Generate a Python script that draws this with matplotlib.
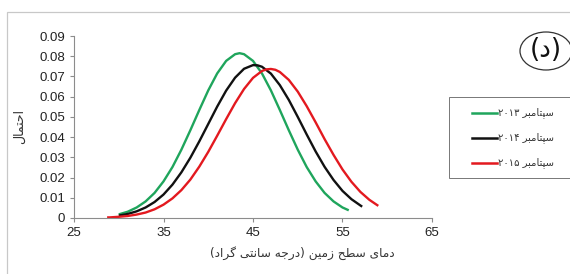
import re
import matplotlib
matplotlib.use("Agg")
import matplotlib.pyplot as plt
from matplotlib.patches import Rectangle, Ellipse
from matplotlib.lines import Line2D

# values (probability vs land surface temperature)
x_2013 = [30, 31, 32, 33, 34, 35, 36, 37, 38, 39, 40, 41, 42, 43, 43.5, 44, 45, 46,
          47, 48, 49, 50, 51, 52, 53, 54, 55, 55.7]
y_2013 = [0.0018, 0.0031, 0.0052, 0.0082, 0.0124, 0.0181, 0.0252, 0.0338, 0.0434,
          0.0534, 0.0631, 0.0715, 0.0777, 0.0810, 0.0815, 0.0810, 0.0777, 0.0715,
          0.0631, 0.0534, 0.0434, 0.0338, 0.0252, 0.0181, 0.0124, 0.0082, 0.0052,
          0.0038]

x_2014 = [30, 31, 32, 33, 34, 35, 36, 37, 38, 39, 40, 41, 42, 43, 44, 45, 45.5, 46,
          47, 48, 49, 50, 51, 52, 53, 54, 55, 56, 57, 57.2]
y_2014 = [0.0012, 0.0020, 0.0033, 0.0052, 0.0079, 0.0116, 0.0165, 0.0226, 0.0298,
          0.0379, 0.0465, 0.0551, 0.0630, 0.0694, 0.0738, 0.0756, 0.0755, 0.0748,
          0.0714, 0.0657, 0.0584, 0.0500, 0.0413, 0.0329, 0.0253, 0.0188, 0.0134,
          0.0093, 0.0062, 0.0056]

x_2015 = [28.7, 29, 30, 31, 32, 33, 34, 35, 36, 37, 38, 39, 40, 41, 42, 43, 44, 45,
          46, 46.5, 47, 47.5, 48, 49, 50, 51, 52, 53, 54, 55, 56, 57, 58, 59]
y_2015 = [0.0003, 0.0003, 0.0006, 0.0010, 0.0017, 0.0027, 0.0043, 0.0066, 0.0097,
          0.0138, 0.0190, 0.0254, 0.0327, 0.0407, 0.0489, 0.0568, 0.0638, 0.0693,
          0.0727, 0.0735, 0.0737, 0.0733, 0.0722, 0.0683, 0.0625, 0.0553, 0.0473,
          0.0390, 0.0312, 0.0240, 0.0179, 0.0129, 0.0090, 0.0060]

series_labels = ["سپتامبر ۲۰۱۳", "سپتامبر ۲۰۱۴", "سپتامبر ۲۰۱۵"]
colors = ["#1fa55c", "#111111", "#e3191f"]
x_ticks = [25, 35, 45, 55, 65]
y_ticks = [0, 0.01, 0.02, 0.03, 0.04, 0.05, 0.06, 0.07, 0.08, 0.09]
x_title = "دمای سطح زمین (درجه سانتی گراد)"
y_title = "احتمال"
panel_tag = "(د)"

# --- minimal Persian shaping (matplotlib has no bidi / joining) ---
FORMS = {
    "ا": ("\uFE8D", "\uFE8E", None, None),
    "ب": ("\uFE8F", "\uFE90", "\uFE91", "\uFE92"),
    "ت": ("\uFE95", "\uFE96", "\uFE97", "\uFE98"),
    "ج": ("\uFE9D", "\uFE9E", "\uFE9F", "\uFEA0"),
    "ح": ("\uFEA1", "\uFEA2", "\uFEA3", "\uFEA4"),
    "د": ("\uFEA9", "\uFEAA", None, None),
    "ر": ("\uFEAD", "\uFEAE", None, None),
    "ز": ("\uFEAF", "\uFEB0", None, None),
    "س": ("\uFEB1", "\uFEB2", "\uFEB3", "\uFEB4"),
    "ط": ("\uFEC1", "\uFEC2", "\uFEC3", "\uFEC4"),
    "ل": ("\uFEDD", "\uFEDE", "\uFEDF", "\uFEE0"),
    "م": ("\uFEE1", "\uFEE2", "\uFEE3", "\uFEE4"),
    "ن": ("\uFEE5", "\uFEE6", "\uFEE7", "\uFEE8"),
    "ه": ("\uFEE9", "\uFEEA", "\uFEEB", "\uFEEC"),
    "پ": ("\uFB56", "\uFB57", "\uFB58", "\uFB59"),
    "گ": ("\uFB92", "\uFB93", "\uFB94", "\uFB95"),
    "ی": ("\uFBFC", "\uFBFD", "\uFBFE", "\uFBFF"),
}


def shape(s):
    out = []
    for i, ch in enumerate(s):
        if ch not in FORMS:
            out.append(ch)
            continue
        prev = s[i - 1] if i > 0 else None
        nxt = s[i + 1] if i + 1 < len(s) else None
        jp = prev in FORMS and FORMS[prev][2] is not None
        jn = nxt in FORMS and FORMS[ch][2] is not None
        iso, fin, ini, med = FORMS[ch]
        if jp and jn:
            out.append(med)
        elif jp:
            out.append(fin)
        elif jn:
            out.append(ini)
        else:
            out.append(iso)
    return "".join(out)


def rtl(s):
    t = shape(s)[::-1]
    t = t.translate(str.maketrans("()", ")("))
    return re.sub(r"[۰-۹0-9]+", lambda m: m.group()[::-1], t)


plt.rcParams["font.family"] = ["Liberation Sans", "DejaVu Sans"]

fig = plt.figure(figsize=(5.7, 2.74), dpi=100)
W, H = 570.0, 274.0
ax = fig.add_axes([74 / W, 1 - 218 / H, (432 - 74) / W, (218 - 36) / H])

for xs, ys, c in zip([x_2013, x_2014, x_2015], [y_2013, y_2014, y_2015], colors):
    ax.plot(xs, ys, color=c, lw=1.7, solid_capstyle="butt")

ax.set_xlim(25, 65)
ax.set_ylim(0, 0.09)
ax.set_xticks(x_ticks)
ax.set_yticks(y_ticks)
ax.set_yticklabels(["0" if v == 0 else f"{v:.2f}" for v in y_ticks])
for side in ["top", "right"]:
    ax.spines[side].set_visible(False)
for side in ["left", "bottom"]:
    ax.spines[side].set_color("#8c8c8c")
    ax.spines[side].set_linewidth(0.8)
ax.tick_params(length=3, width=0.8, color="#8c8c8c", labelsize=9.5,
               labelcolor="#222222", pad=3.5)

# outer frame (partly cropped)
fig.patches.append(Rectangle((7 / W, -0.1), 1.2, 1 - 12 / H + 0.1,
                             transform=fig.transFigure, fill=False,
                             edgecolor="#c8c8c8", lw=0.9))

fig.text(302 / W, 1 - 253 / H, rtl(x_title), ha="center", va="center",
         fontsize=8.7, family=["DejaVu Sans"], color="#333333")
fig.text(19 / W, 1 - 126 / H, rtl(y_title), ha="center", va="center",
         rotation=90, fontsize=9, family=["DejaVu Sans"], color="#333333")

# panel tag in an ellipse
fig.patches.append(Ellipse((546 / W, 1 - 51 / H), 52 / W, 38 / H,
                           transform=fig.transFigure, fill=False,
                           edgecolor="#333333", lw=0.9))
fig.text(546 / W, 1 - 50 / H, rtl(panel_tag), ha="center", va="center",
         fontsize=19, family=["DejaVu Sans"], color="#111111")

# legend box (right side cut off by the image edge)
fig.patches.append(Rectangle((449 / W, 1 - 178 / H), 0.3, 81 / H,
                             transform=fig.transFigure, fill=True,
                             facecolor="white", edgecolor="#777777", lw=0.7))
for i, (lab, c) in enumerate(zip(series_labels, colors)):
    yy = 1 - (113 + 25 * i) / H
    fig.lines.append(Line2D([472 / W, 497 / W], [yy, yy], transform=fig.transFigure,
                            color=c, lw=1.8))
    fig.text(498 / W, yy, rtl(lab), ha="left", va="center", fontsize=7.2,
             family=["DejaVu Sans"], color="#333333")

fig.savefig("out.png", dpi=100)
